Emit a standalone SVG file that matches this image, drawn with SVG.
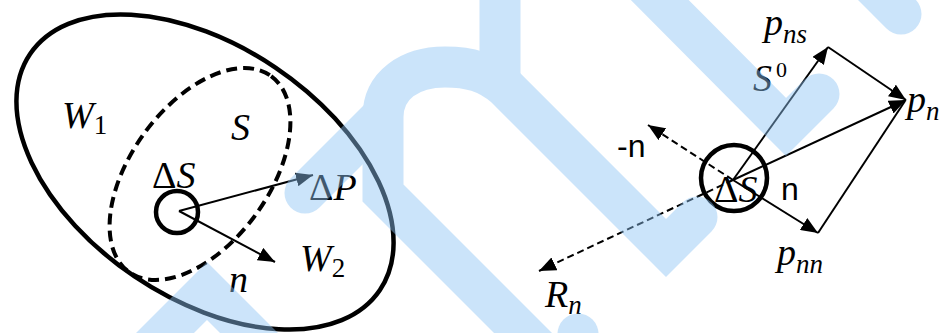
<svg xmlns="http://www.w3.org/2000/svg" width="944" height="333" viewBox="0 0 944 333">
<style>
.m{font-family:"Liberation Serif","DejaVu Serif",serif;font-style:italic;font-size:38px;fill:#000}
.u{font-style:normal}
.sub{font-size:27px}
.sans{font-family:"Liberation Sans",Arial,sans-serif;font-size:32px;fill:#000}
.thick{fill:none;stroke:#000;stroke-width:4.5}
.vec{fill:none;stroke:#000;stroke-width:2}
.dash{fill:none;stroke:#000;stroke-width:2;stroke-dasharray:7 4}
.wm{fill:none;stroke:#8ec4f4;stroke-width:41}
</style>
<defs>
<marker id="ah" markerUnits="userSpaceOnUse" markerWidth="18" markerHeight="14" refX="17" refY="7" orient="auto">
<path d="M0,0 L17,7 L0,14 z" fill="#000"/>
</marker>
</defs>
<rect width="944" height="333" fill="#fff"/>

<g id="region-W">
<ellipse cx="205" cy="172" rx="211" ry="126" transform="rotate(34 205 172)" class="thick"/>
<text class="m" x="62" y="128">W<tspan class="u sub" dy="6">1</tspan></text>
<text class="m" x="300" y="271">W<tspan class="u sub" dy="6">2</tspan></text>
</g>
<g id="surface-S">
<ellipse cx="200" cy="174" rx="121" ry="69" transform="rotate(-54 200 174)" fill="none" stroke="#000" stroke-width="4" stroke-dasharray="11 6"/>
<text class="m" x="231" y="140">S</text>
</g>
<g id="element-dS-left">
<circle cx="177" cy="212" r="21" class="thick"/>
<text class="m" x="152" y="188"><tspan class="u">Δ</tspan>S</text>
</g>
<g id="label-dP"><text class="m" x="309" y="200"><tspan class="u">Δ</tspan>P</text></g>
<g id="label-n-left"><text class="m" x="229" y="292">n</text></g>

<g id="element-dS-right">
<circle cx="734" cy="178" r="33" class="thick"/>
<text class="m" x="714" y="202"><tspan class="u">Δ</tspan>S</text>
</g>
<g id="label-pns"><text class="m" x="764" y="35">p<tspan class="sub" dy="8">ns</tspan></text></g>
<g id="label-pn"><text class="m" x="907" y="112">p<tspan class="sub" dy="8">n</tspan></text></g>
<g id="label-pnn"><text class="m" x="777" y="265">p<tspan class="sub" dy="8">nn</tspan></text></g>
<g id="label-S0"><text class="m" x="753" y="91">S<tspan class="u" font-size="22" dy="-14" dx="4">0</tspan></text></g>
<g id="label-Rn"><text class="m" x="545" y="307">R<tspan class="sub" dy="7">n</tspan></text></g>
<g id="label-minus-n"><text class="sans" x="617" y="157">-n</text></g>
<g id="label-n-right"><text class="sans" x="781" y="200">n</text></g>

<g id="connectors">
<line x1="179" y1="211" x2="313" y2="175" class="vec" marker-end="url(#ah)"/>
<line x1="179" y1="211" x2="275" y2="262" class="vec" marker-end="url(#ah)"/>
<line x1="733" y1="180" x2="828" y2="47" class="vec" marker-end="url(#ah)"/>
<line x1="733" y1="180" x2="906" y2="100" class="vec" marker-end="url(#ah)"/>
<line x1="733" y1="180" x2="818" y2="233" class="vec" marker-end="url(#ah)"/>
<line x1="828" y1="47" x2="906" y2="100" class="vec" marker-end="url(#ah)"/>
<line x1="818" y1="233" x2="905" y2="101" class="vec"/>
<line x1="733" y1="180" x2="648" y2="125" class="dash" marker-end="url(#ah)"/>
<line x1="733" y1="180" x2="539" y2="271" class="dash" marker-end="url(#ah)"/>
</g>

<g id="watermark" opacity="0.45">
<path class="wm" d="M95,403 L207,291 L320,404" stroke-linejoin="miter"/>
<path class="wm" d="M305,193 L380,118" stroke-linecap="round"/>
<path class="wm" d="M560,370 L383,193 L383,117 C383,85 410,67 445,67 C470,67 487,72 505,87 L666,248 L697,217" stroke-linecap="round" stroke-linejoin="miter"/>
<path class="wm" d="M500,-30 L500,80"/>
<path class="wm" d="M620,-40 L786,127 L819,94" stroke-linecap="round" stroke-linejoin="miter"/>
<path class="wm" d="M860,-27 L901,14" stroke-linecap="round"/>
<path class="wm" d="M578,334 L578,380" stroke-linecap="round"/>
</g>
</svg>
